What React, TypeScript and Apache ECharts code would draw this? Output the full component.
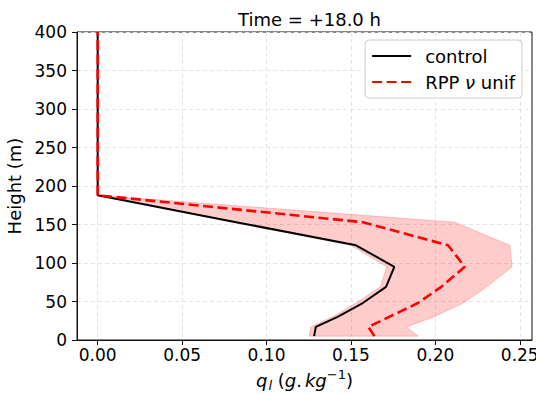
import React, { useEffect, useRef } from "react";
import * as echarts from "echarts";

// Height levels (m)
const heights = [5, 17, 30, 48, 69, 95, 123, 153, 188, 400];
// Liquid water content q_l (g/kg)
const controlQl = [0.1282, 0.1292, 0.1421, 0.157, 0.1708, 0.1757, 0.153, 0.082, 0, 0];
const rppQl = [0.1639, 0.1603, 0.1726, 0.1897, 0.2035, 0.2174, 0.2075, 0.157, 0, 0];
const rppLow = [0.1252, 0.1262, 0.139, 0.153, 0.1675, 0.1712, 0.15, 0.08, 0, 0];
const rppHigh = [0.1897, 0.1827, 0.199, 0.2165, 0.2305, 0.2455, 0.2441, 0.2114, 0, 0];

const xTicks = [0, 0.05, 0.1, 0.15, 0.2, 0.25];
const xMin = -0.01225;
const xMax = 0.25725;
const yMin = 0;
const yMax = 400;
const yStep = 50;

const FONT = "DejaVu Sans";

export default function App() {
  const ref = useRef<HTMLDivElement>(null);

  useEffect(() => {
    if (!ref.current) return;
    const chart = echarts.init(ref.current, undefined, { renderer: "svg" });

    const controlData = heights.map((h, i) => [controlQl[i], h]);
    const rppData = heights.map((h, i) => [rppQl[i], h]);
    const bandPts: number[][] = [];
    heights.forEach((h, i) => bandPts.push([rppHigh[i], h]));
    for (let i = heights.length - 1; i >= 0; i--) bandPts.push([rppLow[i], heights[i]]);

    const gridLine = { show: true, lineStyle: { color: "#e4e4e4", type: [4, 3] as any, width: 1 } };

    const option: any = {
      animation: false,
      backgroundColor: "#fff",
      textStyle: { fontFamily: FONT },
      title: {
        text: "Time = +18.0 h",
        left: 304.5,
        textAlign: "center",
        top: 5,
        textStyle: { fontFamily: FONT, fontSize: 18, fontWeight: "normal", color: "#000" },
      },
      grid: {
        left: 77,
        top: 32,
        right: 4,
        bottom: 54,
        outerBoundsMode: "none",
        containLabel: false,
        show: true,
        borderColor: "#111",
        borderWidth: 1,
        backgroundColor: "transparent",
      },
      legend: {
        orient: "vertical",
        right: 14,
        top: 40,
        data: ["control", "RPP ν unif"],
        itemWidth: 39,
        itemHeight: 14,
        itemGap: 8,
        itemStyle: { color: "rgba(0,0,0,0)", borderWidth: 0, opacity: 0 },
        padding: [7, 7, 7, 6],
        backgroundColor: "rgba(255,255,255,0.8)",
        borderColor: "#cccccc",
        borderWidth: 1,
        borderRadius: 4,
        formatter: (name: string) =>
          name === "RPP ν unif" ? "{p|RPP }{i|ν}{n| unif}" : "{p|" + name + "}",
        textStyle: {
          fontFamily: FONT,
          fontSize: 18,
          color: "#000",
          rich: {
            p: { fontFamily: FONT, fontSize: 18, color: "#000", padding: [0, 0, 0, 9] },
            n: { fontFamily: FONT, fontSize: 18, color: "#000" },
            i: { fontFamily: FONT, fontSize: 18, color: "#000", fontStyle: "italic" },
          },
        },
      },
      xAxis: {
        type: "value",
        min: xMin,
        max: xMax,
        name: "{i|q}{sub|l}{n| (}{i|g}{n|.}{k|kg}{sup|−1}{n|)}",
        nameLocation: "middle",
        nameGap: 25,
        nameTextStyle: {
          fontFamily: FONT,
          fontSize: 18,
          color: "#000",
          rich: {
            i: { fontFamily: FONT, fontSize: 18, fontStyle: "italic", color: "#000" },
            k: { fontFamily: FONT, fontSize: 18, fontStyle: "italic", color: "#000", padding: [0, 0, 0, 3] },
            n: { fontFamily: FONT, fontSize: 18, color: "#000" },
            sub: { fontFamily: FONT, fontSize: 13, fontStyle: "italic", color: "#000", padding: [10, 0, 0, 1] },
            sup: { fontFamily: FONT, fontSize: 13, color: "#000", padding: [0, 0, 12, 0] },
          },
        },
        axisLine: { show: true, onZero: false, lineStyle: { color: "#111", width: 1 } },
        axisTick: { show: true, length: 5, customValues: xTicks, lineStyle: { color: "#111" } },
        axisLabel: {
          customValues: xTicks,
          fontFamily: FONT,
          fontSize: 17,
          color: "#000",
          margin: 6,
          formatter: (v: number) => v.toFixed(2),
        },
        splitLine: gridLine,
      },
      yAxis: {
        type: "value",
        min: yMin,
        max: yMax,
        interval: yStep,
        name: "Height (m)",
        nameLocation: "middle",
        nameGap: 50,
        nameTextStyle: { fontFamily: FONT, fontSize: 18, color: "#000" },
        axisLine: { show: true, onZero: false, lineStyle: { color: "#111", width: 1 } },
        axisTick: { show: true, length: 5, lineStyle: { color: "#111" } },
        axisLabel: { fontFamily: FONT, fontSize: 17, color: "#000", margin: 10 },
        splitLine: gridLine,
      },
      series: [
        {
          name: "band",
          type: "custom",
          z: 1,
          silent: true,
          data: [[0, 0]],
          renderItem: (_params: any, api: any) => {
            const pts = bandPts.map((p) => api.coord(p));
            return {
              type: "polygon",
              shape: { points: pts },
              style: { fill: "rgba(255,0,0,0.2)", stroke: "rgba(255,0,0,0.2)", lineWidth: 1 },
            };
          },
        },
        {
          name: "control",
          type: "line",
          z: 3,
          data: controlData,
          symbol: "none",
          lineStyle: { color: "#000", width: 2 },
          itemStyle: { color: "#000" },
        },
        {
          name: "RPP ν unif",
          type: "line",
          z: 4,
          data: rppData,
          symbol: "none",
          lineStyle: { color: "#ff0000", width: 2.6, type: [10, 4.5] },
          itemStyle: { color: "#ff0000" },
        },
      ],
    };

    chart.setOption(option);
    return () => chart.dispose();
  }, []);

  return (
    <div
      ref={ref}
      style={{ position: "fixed", left: 0, top: 0, width: 536, height: 394, background: "#fff" }}
    />
  );
}
